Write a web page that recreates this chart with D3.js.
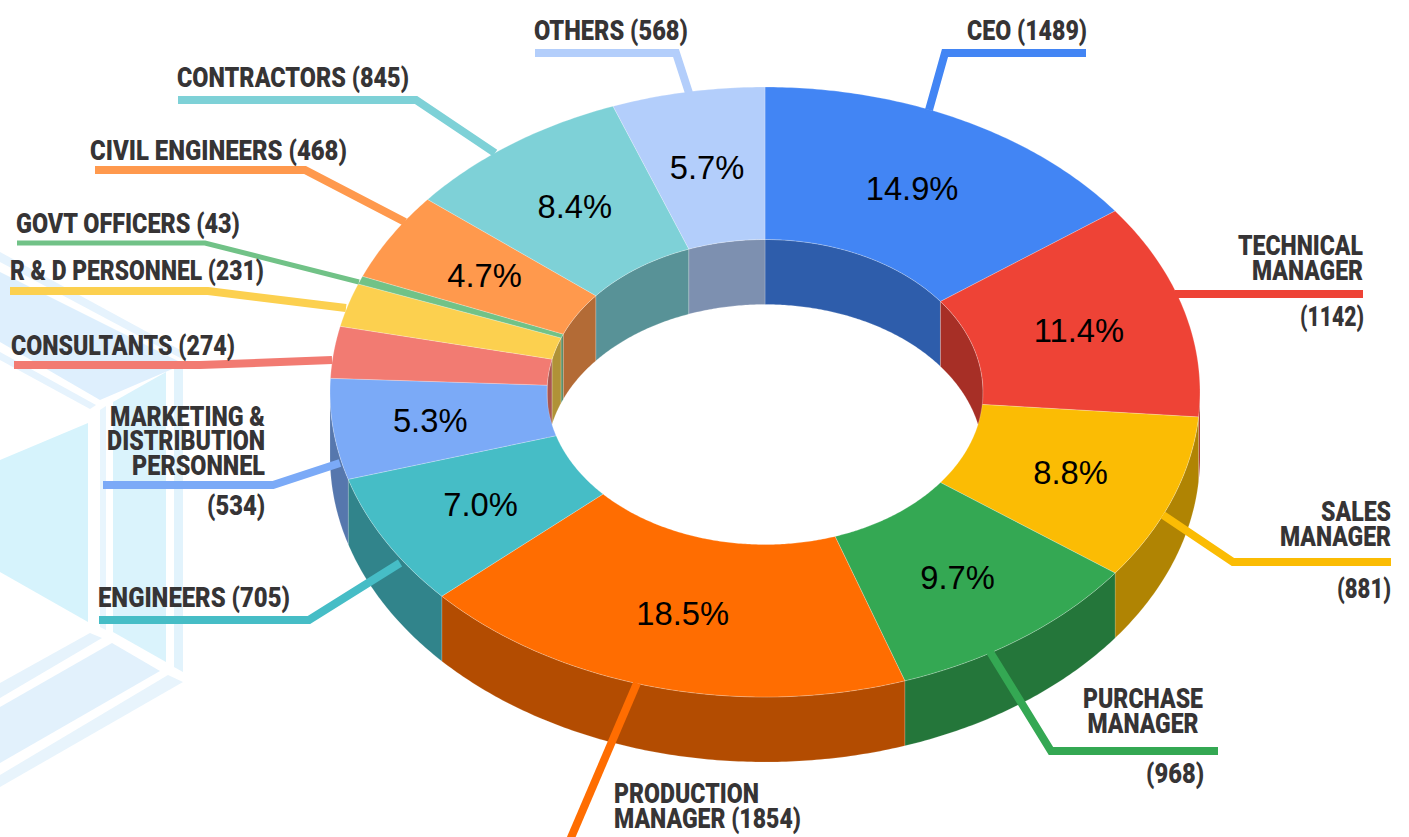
<!DOCTYPE html>
<html>
<head>
<meta charset="utf-8">
<script src="https://cdnjs.cloudflare.com/ajax/libs/d3/7.8.5/d3.min.js"></script>
<style>
  html, body { margin: 0; padding: 0; background: #fff; }
  svg { display: block; }
  .cap { font-family: Roboto, sans-serif; font-weight: 900; font-size: 28px; fill: #363435; }
  .pct { font-family: "Liberation Sans", Arial, sans-serif; font-size: 32.7px; fill: #000; text-anchor: middle; }
</style>
</head>
<body>
<div id="chart"></div>
<script>
// chart values, clockwise from 12 o'clock
var categories = ["CEO", "TECHNICAL MANAGER", "SALES MANAGER", "PURCHASE MANAGER", "PRODUCTION MANAGER",
  "ENGINEERS", "MARKETING & DISTRIBUTION PERSONNEL", "CONSULTANTS", "R & D PERSONNEL", "GOVT OFFICERS",
  "CIVIL ENGINEERS", "CONTRACTORS", "OTHERS"];
var counts = [1489, 1142, 881, 968, 1854, 705, 534, 274, 231, 43, 468, 845, 568];
var palette = ["#4285F4", "#EE4336", "#FBBC04", "#34A853", "#FF6D01", "#46BDC6", "#7BAAF7",
  "#F27B72", "#FCD04F", "#71C287", "#FF994D", "#7ED1D7", "#B3CEFB"];

// leader lines, same order as categories
var leaderPaths = [
  [[1086, 53], [945, 53], [929, 110]],
  [[1363, 294], [1175, 294]],
  [[1391, 562], [1233, 562], [1163, 515]],
  [[1218, 751], [1051, 751], [990, 652]],
  [[570, 840], [637, 683]],
  [[99, 620], [309, 620], [400, 563]],
  [[103, 485], [273, 485], [340, 463]],
  [[14, 365], [200, 365], [332, 360]],
  [[10, 291], [208, 291], [346, 308]],
  [[17, 243], [205, 243], [359, 282]],
  [[95, 170], [305, 170], [405, 222]],
  [[178, 100], [416, 100], [495, 153]],
  [[535, 53], [676, 53], [689, 93]]
];
var leaderWidths = [8, 8, 8, 8, 8, 8, 8, 8, 8, 5, 8, 8, 8];

// caption lines: text, x, baseline, anchor, width on the picture
var captions = [
  ["CEO (1489)", 1087, 40, "end", 120],
  ["TECHNICAL", 1363, 255, "end", 125], ["MANAGER", 1363, 280, "end", 111], ["(1142)", 1364, 326, "end", 64],
  ["SALES", 1391, 521, "end", 70], ["MANAGER", 1391, 546, "end", 111], ["(881)", 1391, 598, "end", 54],
  ["PURCHASE", 1143, 708, "middle", 120], ["MANAGER", 1143, 733, "middle", 111], ["(968)", 1204, 783, "end", 58],
  ["PRODUCTION", 614, 803, "start", 145], ["MANAGER (1854)", 614, 828, "start", 187],
  ["ENGINEERS (705)", 98, 607, "start", 192],
  ["MARKETING &", 265, 426, "end", 155], ["DISTRIBUTION", 265, 450, "end", 158], ["PERSONNEL", 265, 475, "end", 133], ["(534)", 265, 515, "end", 58],
  ["CONSULTANTS (274)", 11, 355, "start", 224],
  ["R & D PERSONNEL (231)", 10, 280, "start", 254],
  ["GOVT OFFICERS (43)", 16, 233, "start", 224],
  ["CIVIL ENGINEERS (468)", 90, 160, "start", 257],
  ["CONTRACTORS (845)", 177, 87, "start", 232],
  ["OTHERS (568)", 534, 40, "start", 154]
];

// the marketing label sits off its mid-angle in the original
var pctNudge = { 6: -11 };

// faint backdrop shapes on the left
var backdrop = [
  ["#e6f3fd", [[0, 252], [184, 352], [184, 360], [0, 262]]],
  ["#deeffd", [[0, 272], [184, 364], [100, 400], [0, 342]]],
  ["#e6f3fd", [[0, 352], [96, 405], [90, 409], [0, 360]]],
  ["#d6f3fc", [[0, 460], [88, 423], [88, 622], [0, 572]]],
  ["#daf3fc", [[113, 402], [166, 372], [166, 662], [113, 632]]],
  ["#e2f3fc", [[174, 368], [183, 368], [183, 672], [174, 667]]],
  ["#e8f5fd", [[100, 410], [106, 406], [106, 630], [100, 627]]],
  ["#e6f3fc", [[0, 683], [90, 633], [102, 638], [0, 698]]],
  ["#e2f1fc", [[0, 707], [112, 643], [160, 671], [0, 763]]],
  ["#e8f4fc", [[0, 775], [168, 675], [183, 682], [0, 787]]]
];

var width = 1409, height = 837;
var cx = 765, cy = 392;
var rxOuter = 435, ryOuter = 305, rxInner = 218, ryInner = 152.5, depth = 65;
var labelAt = 0.75, minShare = 0.04;

var svg = d3.select("#chart").append("svg")
  .attr("width", width)
  .attr("height", height);

svg.append("g").selectAll("polygon")
  .data(backdrop)
  .enter().append("polygon")
    .attr("points", function(d) { return d[1].join(" "); })
    .attr("fill", function(d) { return d[0]; });

var pie = d3.pie().sort(null);
var arcs = pie(counts);
var total = d3.sum(counts);

function project(a, rx, ry, dy) {
  return [cx + rx * Math.sin(a), cy - ry * Math.cos(a) + (dy || 0)];
}

function arcPoints(a0, a1, rx, ry, dy) {
  var n = Math.max(2, Math.ceil(Math.abs(a1 - a0) / 0.01));
  return d3.range(n + 1).map(function(i) {
    return project(a0 + (a1 - a0) * i / n, rx, ry, dy);
  });
}

var line = d3.line();

function band(a0, a1, rxA, ryA, dyA, rxB, ryB, dyB) {
  return line(arcPoints(a0, a1, rxA, ryA, dyA).concat(arcPoints(a1, a0, rxB, ryB, dyB))) + "Z";
}

function shade(c) {
  var k = d3.rgb(c);
  return d3.rgb(k.r * 0.7, k.g * 0.7, k.b * 0.7).formatHex();
}

// inner wall shows on the back half of the hole
var tau = Math.PI * 2;
var innerWalls = svg.append("g");
arcs.forEach(function(d, i) {
  [[d.startAngle - tau, d.endAngle - tau], [d.startAngle, d.endAngle]].forEach(function(r) {
    var a0 = Math.max(r[0], -Math.PI / 2), a1 = Math.min(r[1], Math.PI / 2);
    if (a1 <= a0) return;
    innerWalls.append("path")
      .attr("d", band(a0, a1, rxInner, ryInner, 0, rxInner, ryInner, depth))
      .attr("fill", shade(palette[i]))
      .attr("stroke", "#fff").attr("stroke-opacity", 0.35).attr("stroke-width", 0.6);
  });
});

// outer wall on the front half
var outerWalls = svg.append("g");
arcs.forEach(function(d, i) {
  var a0 = Math.max(d.startAngle, Math.PI / 2), a1 = Math.min(d.endAngle, Math.PI * 1.5);
  if (a1 <= a0) return;
  outerWalls.append("path")
    .attr("d", band(a0, a1, rxOuter, ryOuter, 0, rxOuter, ryOuter, depth))
    .attr("fill", shade(palette[i]))
    .attr("stroke", "#fff").attr("stroke-opacity", 0.25).attr("stroke-width", 0.6);
});

// top face
svg.append("g").selectAll("path")
  .data(arcs)
  .enter().append("path")
    .attr("d", function(d) { return band(d.startAngle, d.endAngle, rxOuter, ryOuter, 0, rxInner, ryInner, 0); })
    .attr("fill", function(d, i) { return palette[i]; })
    .attr("stroke", "#fff").attr("stroke-opacity", 0.4).attr("stroke-width", 0.6);

// leaders
svg.append("g").selectAll("path")
  .data(leaderPaths)
  .enter().append("path")
    .attr("d", function(d) { return line(d); })
    .attr("fill", "none")
    .attr("stroke", function(d, i) { return palette[i]; })
    .attr("stroke-width", function(d, i) { return leaderWidths[i]; })
    .attr("stroke-linejoin", "miter");

// percentage labels, small slices stay unlabelled
svg.append("g").selectAll("text")
  .data(arcs.filter(function(d) { return d.value / total >= minShare; }))
  .enter().append("text")
    .attr("class", "pct")
    .attr("x", function(d) { return project((d.startAngle + d.endAngle) / 2, rxOuter * labelAt, ryOuter * labelAt)[0] + (pctNudge[d.index] || 0); })
    .attr("y", function(d) { return project((d.startAngle + d.endAngle) / 2, rxOuter * labelAt, ryOuter * labelAt)[1] + 12; })
    .text(function(d) { return (d.value / total * 100).toFixed(1) + "%"; });

// captions, Roboto squeezed per line to the condensed look of the original
svg.append("g").selectAll("text")
  .data(captions)
  .enter().append("text")
    .attr("class", "cap")
    .attr("text-anchor", function(d) { return d[3]; })
    .text(function(d) { return d[0]; })
    .attr("transform", function(d) {
      var sx = d[4] / this.getComputedTextLength();
      return "translate(" + d[1] + "," + d[2] + ") scale(" + sx.toFixed(3) + ",1)";
    });
</script>
</body>
</html>
